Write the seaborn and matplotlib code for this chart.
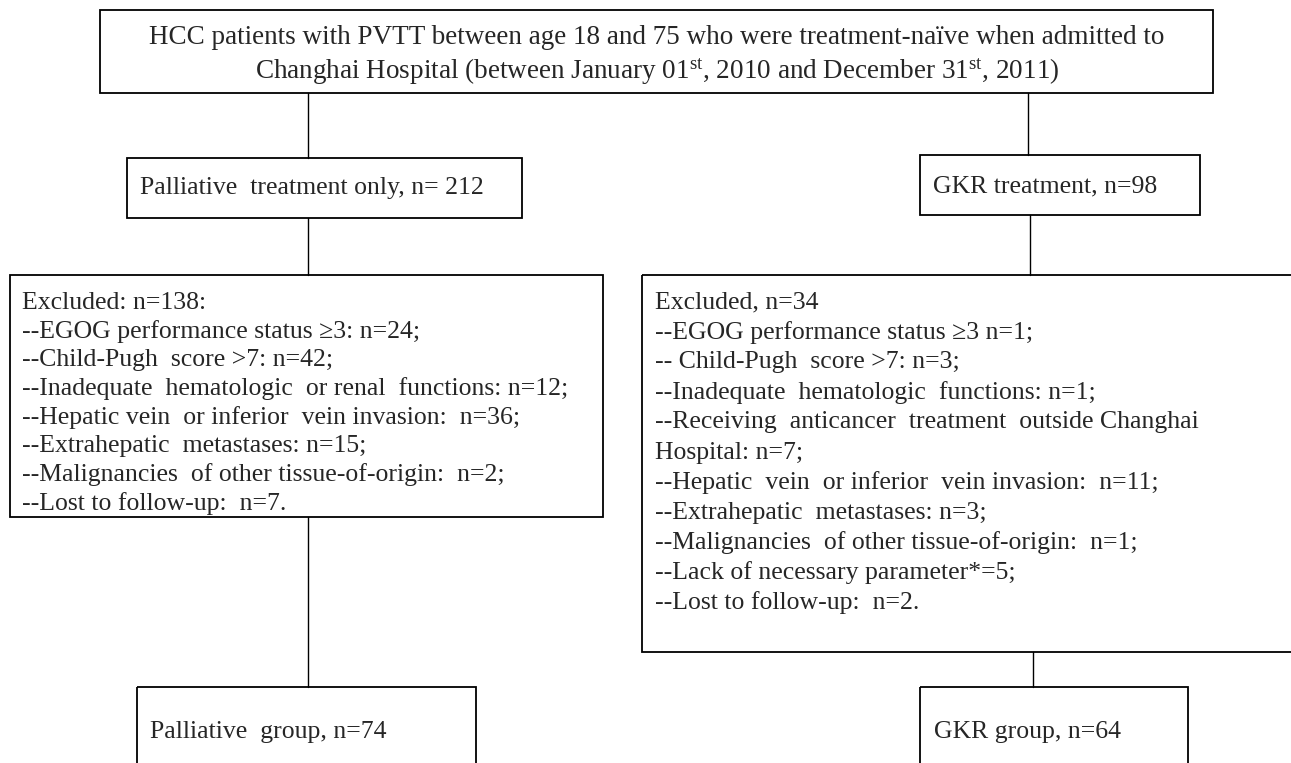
import matplotlib.pyplot as plt
import seaborn as sns
from matplotlib.patches import Rectangle

# box texts
top_lines = [
    "HCC patients with PVTT between age 18 and 75 who were treatment-na\u00efve when admitted to",
    "Changhai Hospital (between January 01$^{\\mathrm{st}}$, 2010 and December 31$^{\\mathrm{st}}$, 2011)",
]
arm_labels = ["Palliative  treatment only, n= 212", "GKR treatment, n=98"]
left_excluded = [
    "Excluded: n=138:",
    "--EGOG performance status \u22653: n=24;",
    "--Child-Pugh  score >7: n=42;",
    "--Inadequate  hematologic  or renal  functions: n=12;",
    "--Hepatic vein  or inferior  vein invasion:  n=36;",
    "--Extrahepatic  metastases: n=15;",
    "--Malignancies  of other tissue-of-origin:  n=2;",
    "--Lost to follow-up:  n=7.",
]
right_excluded = [
    "Excluded, n=34",
    "--EGOG performance status \u22653 n=1;",
    "-- Child-Pugh  score >7: n=3;",
    "--Inadequate  hematologic  functions: n=1;",
    "--Receiving  anticancer  treatment  outside Changhai",
    "Hospital: n=7;",
    "--Hepatic  vein  or inferior  vein invasion:  n=11;",
    "--Extrahepatic  metastases: n=3;",
    "--Malignancies  of other tissue-of-origin:  n=1;",
    "--Lack of necessary parameter*=5;",
    "--Lost to follow-up:  n=2.",
]
group_labels = ["Palliative  group, n=74", "GKR group, n=64"]

# layout in pixel coords (x0, y0, x1, y1)
boxes = {
    "top": (100, 10, 1213, 93),
    "arm_l": (127, 158, 522, 218),
    "arm_r": (920, 155, 1200, 215),
    "exc_l": (10, 275, 603, 517),
    "exc_r": (642, 275, 1300, 652),
    "grp_l": (137, 687, 476, 800),
    "grp_r": (920, 687, 1188, 800),
}
links = [
    (308, 93, 158), (1028, 93, 155),
    (308, 218, 275), (1030, 215, 275),
    (308, 517, 687), (1033, 652, 687),
]

sns.set_style("white")
plt.rcParams["font.family"] = ["Liberation Serif", "DejaVu Serif"]
plt.rcParams["mathtext.fontset"] = "custom"
plt.rcParams["mathtext.rm"] = "Liberation Serif"
plt.rcParams["mathtext.it"] = "Liberation Serif:italic"

fig = plt.figure(figsize=(12.91, 7.63), dpi=100)
ax = fig.add_axes([0, 0, 1, 1])
ax.set_xlim(0, 1291)
ax.set_ylim(763, 0)
ax.axis("off")

for x0, y0, x1, y1 in boxes.values():
    ax.add_patch(Rectangle((x0, y0), x1 - x0, y1 - y0, fill=False, ec="black", lw=1.3))

for x, ya, yb in links:
    sns.lineplot(x=[x, x], y=[ya, yb], ax=ax, color="black", lw=1.0, estimator=None, sort=False)

fs = 18.5
ax.text(657, 37, top_lines[0], ha="center", va="center", fontsize=19.5)
ax.text(657, 72, top_lines[1], ha="center", va="center", fontsize=19.5)
ax.text(140, 188, arm_labels[0], ha="left", va="center", fontsize=fs)
ax.text(933, 186, arm_labels[1], ha="left", va="center", fontsize=fs)

for i, s in enumerate(left_excluded):
    ax.text(22, 303 + i * 28.6, s, ha="left", va="center", fontsize=fs)
for i, s in enumerate(right_excluded):
    ax.text(655, 302 + i * 30.1, s, ha="left", va="center", fontsize=fs)

ax.text(150, 732, group_labels[0], ha="left", va="center", fontsize=fs)
ax.text(934, 732, group_labels[1], ha="left", va="center", fontsize=fs)

fig.savefig("out.png", dpi=100)
